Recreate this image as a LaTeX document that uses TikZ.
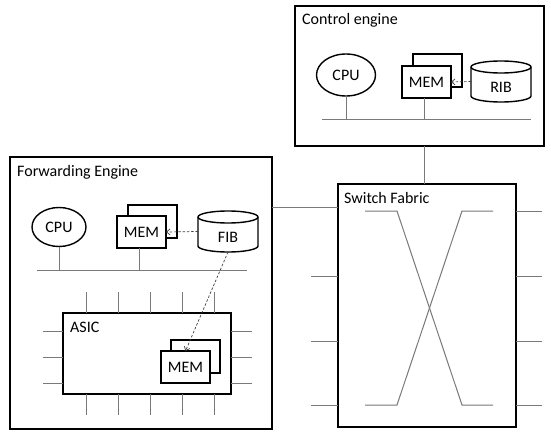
\documentclass[tikz,border=0pt]{standalone}
\usepackage{fontspec}
\setmainfont{Carlito}
\usetikzlibrary{arrows.meta,shapes.geometric}
\newcommand{\drawcyl}[1]{%
  \draw[obj] ([yshift=-6pt]#1.north west) -- ([yshift=6pt]#1.south west)
    arc[start angle=180,end angle=360,x radius=30pt,y radius=6pt]
    -- ([yshift=-6pt]#1.north east)
    arc[start angle=0,end angle=180,x radius=30pt,y radius=6pt] -- cycle;
  \draw[obj] ([yshift=-6pt]#1.north west) arc[start angle=180,end angle=360,x radius=30pt,y radius=6pt];
}
\begin{document}
\begin{tikzpicture}[x=1pt,y=-1pt,
  obj/.style={draw=black,line width=1.4pt},
  bigbox/.style={obj,inner sep=0pt,outer sep=0pt,anchor=north west},
  bus/.style={draw=gray!95!black,line width=1pt},
  txt/.style={font=\fontsize{16}{19}\selectfont,inner sep=0pt},
  title/.style={txt,anchor=west},
  memback/.style={obj,inner sep=0pt,outer sep=0pt,minimum width=49pt,minimum height=33pt,anchor=north west},
  memfront/.style={obj,fill=white,inner sep=0pt,outer sep=0pt,minimum width=49pt,minimum height=32pt,anchor=north west,font=\fontsize{16}{19}\selectfont},
  cpu/.style={obj,ellipse,inner sep=0pt,outer sep=0pt,font=\fontsize{16}{19}\selectfont},
  cyl/.style={inner sep=0pt,outer sep=0pt,minimum width=60pt,minimum height=41pt},
  dasharrow/.style={draw=gray!50!black,line width=0.7pt,dash pattern=on 2.5pt off 1.8pt,-{Straight Barb[length=3.5pt,width=6pt]}}
]
\useasboundingbox[fill=white] (0,0) rectangle (551,433);

% ---------- Control engine ----------
\node[bigbox,minimum width=249pt,minimum height=140pt] (ce) at (295,6) {};
\node[title] (cetitle) at (302,20) {Control engine};
\node[cpu,minimum width=59pt,minimum height=42pt] (cecpu) at (346,75) {CPU};
\node[memback] (cememb) at (413,54) {};
\node[memfront] (cemem) at (402,66) {MEM};
\node[cyl] (rib) at (501,81.5) {};
\drawcyl{rib}
\node[txt] (ribt) at (501,87.5) {RIB};
\draw[dasharrow] (rib.west) -- (cemem.east);
\coordinate (cebusL) at (322,120);
\coordinate (cebusR) at (531,120);
\coordinate (cestem) at (424,120);
\draw[bus] (cebusL) -- (cebusR);
\draw[bus] (cecpu.south) -- (cecpu.south |- cebusL);
\draw[bus] (cemem.south -| cestem) -- (cestem);

% ---------- Switch fabric ----------
\node[bigbox,minimum width=178pt,minimum height=243pt] (sf) at (338,184) {};
\node[title] (sftitle) at (344,198) {Switch Fabric};
\draw[bus] (ce.south -| cestem) -- (sf.north -| cestem);
\coordinate (x1) at (365,211);
\coordinate (x2) at (397,211);
\coordinate (x3) at (462,405);
\coordinate (x4) at (493,405);
\coordinate (y1) at (365,405);
\coordinate (y2) at (397,405);
\coordinate (y3) at (462,211);
\coordinate (y4) at (493,211);
\draw[bus] (x1) -- (x2) -- (x3) -- (x4);
\draw[bus] (y1) -- (y2) -- (y3) -- (y4);
\foreach \yy in {276,341,405} {
  \coordinate (sl\yy) at (311,\yy);
  \draw[bus] (sl\yy) -- (sf.west |- sl\yy);
}
\foreach \yy in {211,276,341,405} {
  \coordinate (sr\yy) at (542,\yy);
  \draw[bus] (sf.east |- sr\yy) -- (sr\yy);
}

% ---------- Forwarding engine ----------
\node[bigbox,minimum width=262pt,minimum height=272pt] (fe) at (10,157) {};
\node[title] (fetitle) at (17,172) {Forwarding Engine};
\coordinate (fesf) at (300,207);
\draw[bus] (fe.east |- fesf) -- (sf.west |- fesf);
\node[cpu,minimum width=54pt,minimum height=39pt] (fecpu) at (59,227) {CPU};
\node[memback] (fememb) at (128,205) {};
\node[memfront] (femem) at (117,216) {MEM};
\node[cyl] (fib) at (228,231.5) {};
\drawcyl{fib}
\node[txt] (fibt) at (228,237.5) {FIB};
\draw[dasharrow] (fib.west) -- (femem.east);
\coordinate (febusL) at (37,270);
\coordinate (febusR) at (247,270);
\coordinate (festem) at (139,270);
\draw[bus] (febusL) -- (febusR);
\draw[bus] (fecpu.south) -- (fecpu.south |- febusL);
\draw[bus] (femem.south -| festem) -- (festem);

% ---------- ASIC ----------
\node[bigbox,minimum width=168pt,minimum height=81pt] (asic) at (63,313) {};
\node[title] (asictitle) at (70,327) {ASIC};
\foreach \xx in {86,118,150,182,214} {
  \coordinate (at\xx) at (\xx,292);
  \coordinate (ab\xx) at (\xx,415);
  \draw[bus] (at\xx) -- (asic.north -| at\xx);
  \draw[bus] (asic.south -| ab\xx) -- (ab\xx);
}
\foreach \yy in {331,357,383} {
  \coordinate (al\yy) at (43,\yy);
  \coordinate (ar\yy) at (252,\yy);
  \draw[bus] (al\yy) -- (asic.west |- al\yy);
  \draw[bus] (asic.east |- ar\yy) -- (ar\yy);
}
\node[memback] (amemb) at (171,340) {};
\node[memfront] (amem) at (161,351) {MEM};
\draw[dasharrow] (fib.south) -- (amem.north);
\end{tikzpicture}
\end{document}
